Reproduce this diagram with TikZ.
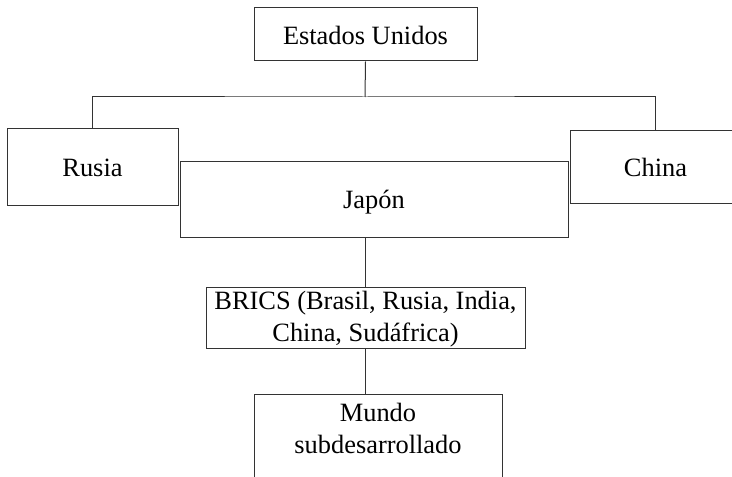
\documentclass[tikz,border=0pt]{standalone}
\usepackage{fontspec}
\setmainfont{Liberation Serif}
\tikzset{
  caja/.style={draw=black!80, line width=0.5pt, inner sep=0pt, align=center,
    font=\fontsize{13.2}{15.6}\selectfont, text depth=0pt},
  enlace/.style={draw=black!80, line width=0.5pt}
}

\begin{document}
\begin{tikzpicture}[x=0.5pt,y=-0.5pt]
    \useasboundingbox (0,0) rectangle (732,476);
    \clip (0,0) rectangle (732,476);

    \node[caja, minimum width=111.5pt, minimum height=26.5pt, text height=10.5pt](eeuu)at(365.5,34.5){Estados Unidos};
    \node[caja, minimum width=85.5pt, minimum height=38.5pt, text height=9.5pt](rusia)at(92.5,166.5){Rusia};
    \node[caja, minimum width=85.5pt, minimum height=36.5pt, text height=10pt](china)at(655.5,166.5){China};
    \node[caja, minimum width=194pt, minimum height=38pt, text height=9pt](japon)at(374,199){Japón};
    \node[caja, minimum width=159.5pt, minimum height=30.5pt, text height=23.5pt](brics)at(365.5,317.5){BRICS (Brasil, Rusia, India,\\China, Sudáfrica)};
    \node[caja, anchor=north, minimum width=124pt, text height=29.5pt, text depth=20pt, font=\fontsize{13.2}{16}\selectfont](mundo)at(378,394){Mundo\\subdesarrollado};

    \coordinate(barra)at(365,97);
    \draw[enlace](eeuu.south)--(barra);
    \draw[enlace](rusia.north)|-(barra)-|(china.north);
    \draw[enlace](brics.north)--(brics.north|-japon.south);
    \draw[enlace](brics.south)--(brics.south|-mundo.north);
\end{tikzpicture}
\end{document}
